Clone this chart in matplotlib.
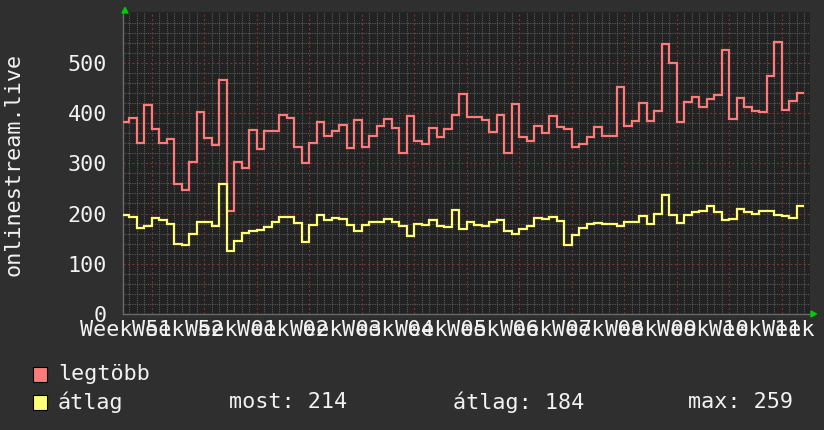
import numpy as np
import matplotlib
matplotlib.use("Agg")
import matplotlib.pyplot as plt
from matplotlib.patches import Rectangle, Polygon

# ---------------- data ----------------
# daily values; day edges in days relative to the first week boundary
day_edges = list(range(-4, 88))

legtobb = [382, 391, 341, 415, 369, 340, 349, 258, 246, 303, 402, 351, 336, 466, 205,
           303, 291, 366, 329, 364, 364, 397, 391, 332, 300, 340, 382, 354, 364, 377, 330,
           387, 332, 354, 374, 389, 371, 321, 394, 344, 338, 370, 352, 369, 397, 437,
           392, 392, 386, 362, 397, 321, 417, 352, 344, 374, 360, 395, 372, 368, 332,
           338,
           352, 372, 354, 354, 452, 374, 384, 419, 384, 404, 538, 499, 382, 422, 432,
           412, 427, 435, 525, 389, 429, 412, 404, 402, 474, 541, 406, 424, 440]

atlag = [197, 193, 172, 175, 192, 187, 179, 139, 137, 160, 184, 183, 175, 259, 126,
         145, 161, 165, 167, 174, 184, 194, 194, 182, 144, 177, 197, 187, 192, 189, 177,
         166, 177, 184, 184, 189, 183, 175, 156, 179, 177, 187, 175, 174, 207, 169,
         184, 177, 175, 183, 187, 166, 160, 169, 175, 192, 189, 194, 185, 138, 157,
         171,
         180, 182, 180, 180, 175, 184, 183, 195, 180, 200, 237, 197, 182, 197, 202,
         204, 215, 202, 187, 189, 209, 202, 199, 205, 205, 197, 195, 192, 214]

week_ticks = [0, 7, 14, 21, 28, 35, 42, 49, 56, 63, 70, 77, 84]
# labels sit in the middle of each week (week 12 runs past the right edge)
label_pos = [-3.5, 3.5, 10.5, 17.5, 24.5, 31.5, 38.5, 45.5, 52.5, 59.5, 66.5, 73.5, 80.5, 87.5]
week_labels = ["Week 51", "Week 52", "Week 01", "Week 02", "Week 03", "Week 04", "Week 05",
               "Week 06", "Week 07", "Week 08", "Week 09", "Week 10", "Week 11", "Week 12"]
y_ticks = [0, 100, 200, 300, 400, 500]

series_names = ["legtöbb", "átlag"]
stats_labels = ["most: 214", "átlag: 184", "max: 259"]
y_title = "onlinestream.live"

# ---------------- style ----------------
W, H = 824, 430
BG = "#2f2f2f"
PLOT_BG = "#222222"
TXT = "#f2f2f2"
RED = "#ff7b7b"
YEL = "#ffff77"
MINOR = "#5a5a5a"
MAJOR = "#7a3434"
FONT = "DejaVu Sans Mono"
FS = 15.7

fig = plt.figure(figsize=(W / 100, H / 100), dpi=100, facecolor=BG)
x0, x1, ytop, ybot = 123.5, 810, 12, 314
ax = fig.add_axes([x0 / W, 1 - ybot / H, (x1 - x0) / W, (ybot - ytop) / H])
ax.set_facecolor(PLOT_BG)
ax.set_xlim(-3.78, 87.78)
ax.set_ylim(0, 601)

# grid
for d in range(-3, 88):
    if d not in week_ticks:
        ax.axvline(d, color=MINOR, lw=0.8, ls=(0, (1, 1)), zorder=1)
for v in range(20, 601, 20):
    if v % 100:
        ax.axhline(v, color=MINOR, lw=0.8, ls=(0, (1, 1)), zorder=1)
for d in week_ticks:
    ax.axvline(d, color=MAJOR, lw=0.8, ls=(0, (2, 2)), zorder=1.5)
for v in y_ticks[1:]:
    ax.axhline(v, color=MAJOR, lw=0.8, ls=(0, (2, 2)), zorder=1.5)

# data
ax.stairs(legtobb, day_edges, baseline=None, color=RED, lw=1.6, zorder=3)
ax.stairs(atlag, day_edges, baseline=None, color=YEL, lw=1.6, zorder=3)

for s in ["top", "right"]:
    ax.spines[s].set_visible(False)
for s in ["left", "bottom"]:
    ax.spines[s].set_color("#6a6a6a")
    ax.spines[s].set_linewidth(1.0)

ax.set_xticks([])
ax.set_yticks(y_ticks)
ax.set_yticklabels([str(v) for v in y_ticks], fontfamily=FONT, fontsize=FS, color=TXT)
ax.tick_params(axis="y", length=0, pad=12)

for t, lab in zip(label_pos, week_labels):
    ax.text(t, -12, lab, ha="center", va="top", fontfamily=FONT, fontsize=FS,
            color=TXT, clip_on=False)

# arrows
fig.patches.append(Polygon([[122 / W, 1 - 13 / H], [128 / W, 1 - 13 / H], [125 / W, 1 - 7.5 / H]],
                           closed=True, transform=fig.transFigure, color="#00cc00"))
fig.patches.append(Polygon([[811 / W, 1 - 311 / H], [811 / W, 1 - 317 / H], [816.5 / W, 1 - 314 / H]],
                           closed=True, transform=fig.transFigure, color="#00cc00"))

# y title
fig.text(14 / W, 1 - 164 / H, y_title, rotation=90, ha="center", va="center",
         fontfamily=FONT, fontsize=FS, color=TXT)

# legend
for i, (name, col) in enumerate(zip(series_names, [RED, YEL])):
    yc = 374 + 28 * i
    fig.patches.append(Rectangle((33 / W, 1 - (yc + 7.5) / H), 14 / W, 15 / H,
                                 transform=fig.transFigure, facecolor=col,
                                 edgecolor="#000000", lw=0.8))
    fig.text(58 / W, 1 - yc / H, name, ha="left", va="center", fontfamily=FONT,
             fontsize=FS, color=TXT)
for xs, lab in zip([229, 453, 688], stats_labels):
    fig.text(xs / W, 1 - 402 / H, lab, ha="left", va="center", fontfamily=FONT,
             fontsize=FS, color=TXT)

fig.savefig("out.png", dpi=100, facecolor=BG)
